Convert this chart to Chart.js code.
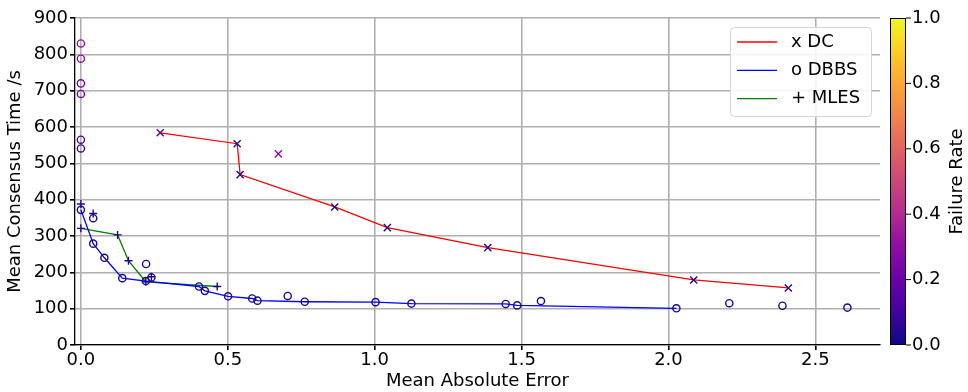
<!DOCTYPE html>
<html>
<head>
<meta charset="utf-8">
<script src="https://cdn.jsdelivr.net/npm/chart.js@4.4.0/dist/chart.umd.min.js"></script>
<style>
  html, body { margin: 0; padding: 0; background: #fff; }
</style>
</head>
<body>
<canvas id="c" width="968" height="392"></canvas>
<script>
// DC runs
const dcX    = [0.27, 0.532, 0.542, 0.672, 0.864, 1.043, 1.385, 2.086, 2.408];
const dcY    = [584, 554, 469, 526, 380, 323, 268, 179, 157];
const dcFail = [0.15, 0.05, 0.05, 0.3, 0.04, 0.04, 0.04, 0.04, 0.04];
const dcFrontX = [0.27, 0.532, 0.542, 0.864, 1.043, 1.385, 2.086, 2.408];
const dcFrontY = [584, 554, 469, 380, 323, 268, 179, 157];

// DBBS runs
const dbbsX = [0, 0, 0, 0, 0, 0, 0, 0.042, 0.042, 0.08, 0.141, 0.221, 0.222, 0.24, 0.402,
               0.422, 0.501, 0.583, 0.601, 0.704, 0.762, 1.003, 1.125, 1.446, 1.485, 1.566,
               2.027, 2.207, 2.388, 2.609];
const dbbsY = [830, 788, 720, 691, 565, 541, 372, 349, 279, 240, 184, 176, 223, 186, 161,
               149, 134, 128, 122, 135, 119, 118, 114, 113, 109, 121,
               101, 115, 108, 103];
const dbbsFail = [0.32, 0.3, 0.24, 0.24, 0.15, 0.1, 0.04, 0.04, 0.03, 0.03, 0.03, 0.03, 0.04, 0.03, 0.03,
                  0.03, 0.03, 0.03, 0.03, 0.03, 0.03, 0.03, 0.03, 0.03, 0.03, 0.03,
                  0.03, 0.03, 0.03, 0.03];
const dbbsFrontX = [0, 0.042, 0.08, 0.141, 0.221, 0.402, 0.422, 0.501, 0.583, 0.601, 0.762,
                    1.003, 1.125, 1.446, 1.485, 2.027];
const dbbsFrontY = [372, 279, 240, 184, 176, 161, 149, 134, 128, 122, 119,
                    118, 114, 113, 109, 101];

// MLES runs
const mlesX    = [0, 0, 0.042, 0.125, 0.162, 0.221, 0.24, 0.464];
const mlesY    = [388, 321, 362, 303, 232, 174, 188, 161];
const mlesFail = [0.06, 0.04, 0.04, 0.03, 0.03, 0.03, 0.03, 0.03];
const mlesFrontX = [0, 0.125, 0.162, 0.221, 0.464];
const mlesFrontY = [321, 303, 232, 174, 161];

const xTicks  = [0, 0.5, 1, 1.5, 2, 2.5];
const cbTicks = [0, 0.2, 0.4, 0.6, 0.8, 1.0];

// plasma colormap stops
const plasmaStops = ['#0d0887', '#41049d', '#6a00a8', '#8f0da4', '#b12a90', '#cc4778',
                     '#e16462', '#f2844b', '#fca636', '#fcce25', '#f0f921'];

function hexRgb(h) {
  return [1, 3, 5].map(i => parseInt(h.slice(i, i + 2), 16));
}
function plasma(t) {
  const p = Math.max(0, Math.min(1, t)) * (plasmaStops.length - 1);
  const i = Math.min(Math.floor(p), plasmaStops.length - 2);
  const f = p - i;
  const a = hexRgb(plasmaStops[i]), b = hexRgb(plasmaStops[i + 1]);
  const c = a.map((v, k) => Math.round(v + (b[k] - v) * f));
  return `rgb(${c[0]},${c[1]},${c[2]})`;
}

const pts = (xs, ys) => xs.map((x, i) => ({ x: x, y: ys[i] }));
const FONT = 'DejaVu Sans';
const FS = 18;

function markers(xs, ys, fail, style, r) {
  return {
    data: pts(xs, ys),
    showLine: false,
    pointStyle: style,
    pointRadius: r,
    pointHoverRadius: r,
    pointBorderWidth: 1.4,
    pointBackgroundColor: 'rgba(0,0,0,0)',
    pointBorderColor: fail.map(plasma),
    inLegend: false
  };
}
function front(label, xs, ys, color) {
  return {
    label: label,
    data: pts(xs, ys),
    showLine: true,
    borderColor: color,
    borderWidth: 1.3,
    pointRadius: 0,
    fill: false,
    inLegend: true
  };
}

const colorbar = {
  id: 'colorbar',
  afterDraw(chart) {
    const ctx = chart.ctx, a = chart.chartArea;
    const x0 = 890, w = 16, top = a.top, bot = a.bottom;
    const g = ctx.createLinearGradient(0, bot, 0, top);
    plasmaStops.forEach((c, i) => g.addColorStop(i / (plasmaStops.length - 1), c));
    ctx.save();
    ctx.fillStyle = g;
    ctx.fillRect(x0, top, w, bot - top);
    ctx.strokeStyle = '#000';
    ctx.lineWidth = 1;
    ctx.strokeRect(x0 + 0.5, top + 0.5, w - 1, bot - top - 1);
    ctx.font = FS + 'px "' + FONT + '"';
    ctx.fillStyle = '#000';
    ctx.textBaseline = 'middle';
    ctx.textAlign = 'left';
    cbTicks.forEach(v => {
      const y = bot - v * (bot - top);
      ctx.beginPath();
      ctx.moveTo(x0 + w, y);
      ctx.lineTo(x0 + w + 5, y);
      ctx.stroke();
      ctx.fillText(v.toFixed(1), x0 + w + 6, y);
    });
    ctx.translate(957, (top + bot) / 2);
    ctx.rotate(-Math.PI / 2);
    ctx.textAlign = 'center';
    ctx.fillText('Failure Rate', 0, 0);
    ctx.restore();
  }
};

const boxLegend = {
  id: 'boxLegend',
  afterDatasetsDraw(chart) {
    const ctx = chart.ctx;
    const items = chart.data.datasets.filter(d => d.inLegend);
    const bx = 730, by = 27, bw = 141, bh = 89, r = 4;
    ctx.save();
    ctx.beginPath();
    ctx.roundRect(bx + 0.5, by + 0.5, bw, bh, r);
    ctx.fillStyle = 'rgba(255,255,255,0.85)';
    ctx.fill();
    ctx.strokeStyle = '#d6d6d6';
    ctx.lineWidth = 1;
    ctx.stroke();
    ctx.font = FS + 'px "' + FONT + '"';
    ctx.textBaseline = 'middle';
    ctx.textAlign = 'left';
    items.forEach((d, i) => {
      const y = by + 15 + i * 28.3;
      ctx.strokeStyle = d.borderColor;
      ctx.lineWidth = 1.3;
      ctx.beginPath();
      ctx.moveTo(bx + 7, y);
      ctx.lineTo(bx + 47, y);
      ctx.stroke();
      ctx.fillStyle = '#000';
      ctx.fillText(d.label, bx + 61, y);
    });
    ctx.restore();
  }
};

new Chart(document.getElementById('c'), {
  type: 'scatter',
  data: {
    datasets: [
      markers(dcX, dcY, dcFail, 'crossRot', 5),
      markers(dbbsX, dbbsY, dbbsFail, 'circle', 3.6),
      markers(mlesX, mlesY, mlesFail, 'cross', 4),
      front('x DC', dcFrontX, dcFrontY, '#ff0000'),
      front('o DBBS', dbbsFrontX, dbbsFrontY, '#0000ff'),
      front('+ MLES', mlesFrontX, mlesFrontY, '#008000')
    ]
  },
  options: {
    responsive: false,
    animation: false,
    devicePixelRatio: 1,
    layout: { padding: { left: 0, right: 88, top: 18, bottom: 0 } },
    plugins: { legend: { display: false }, tooltip: { enabled: false } },
    scales: {
      x: {
        type: 'linear',
        min: -0.02,
        max: 2.72,
        afterBuildTicks: s => { s.ticks = xTicks.map(v => ({ value: v })); },
        afterFit: s => { s.height = 47; },
        grid: { color: '#b0b0b0', lineWidth: 1.6, tickLength: 5, tickColor: '#000' },
        border: { display: true, color: '#000', width: 1.3 },
        ticks: { color: '#000', font: { family: FONT, size: FS }, padding: 0,
                 maxRotation: 0, callback: v => v.toFixed(1) },
        title: { display: true, text: 'Mean Absolute Error', color: '#000',
                 font: { family: FONT, size: FS }, padding: { top: 0, bottom: 0 } }
      },
      y: {
        type: 'linear',
        min: 0,
        max: 900,
        afterFit: s => { s.width = 75; },
        grid: { color: '#b0b0b0', lineWidth: 1.6, tickLength: 5, tickColor: '#000' },
        border: { display: true, color: '#000', width: 1.3 },
        ticks: { color: '#000', stepSize: 100, font: { family: FONT, size: FS }, padding: 2 },
        title: { display: true, text: 'Mean Consensus Time /s', color: '#000',
                 font: { family: FONT, size: FS }, padding: { top: 5, bottom: 0 } }
      }
    }
  },
  plugins: [boxLegend, colorbar]
});
</script>
</body>
</html>
